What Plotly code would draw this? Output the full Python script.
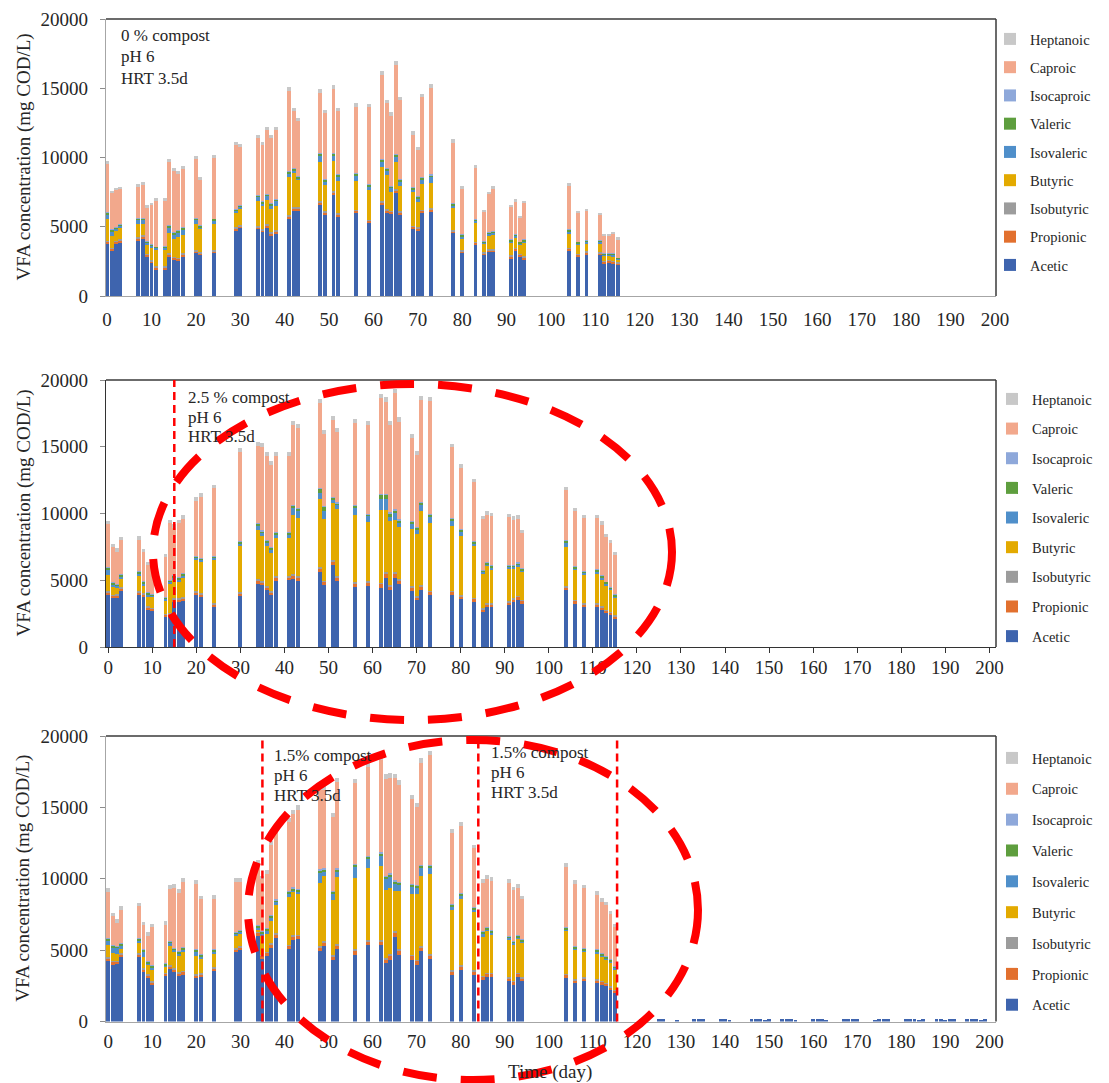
import plotly.graph_objects as go

W, H = 1109, 1083
FONT = "Liberation Serif"

# ---------------- Panel 1 : 0 % compost ----------------
days1 = [0, 1, 2, 3, 7, 8, 9, 10, 11, 13, 14, 15, 16, 17, 20, 21, 24, 29, 30, 34, 35, 36, 37, 38,
         41, 42, 43, 48, 49, 51, 52, 56, 59, 62, 63, 64, 65, 66, 69, 70, 71, 73, 78, 80, 83, 85, 86, 87,
         91, 92, 93, 94, 104, 106, 108, 111, 112, 113, 114, 115]
acetic1 = [3750, 3270, 3750, 3850, 3990, 4140, 2840, 2360, 1930, 1930, 2840, 2600, 2550, 2840, 3080, 2940, 3080,
           4690, 4890, 4810, 4600, 4930, 4350, 4480, 5540, 6160, 6160, 6570, 5850, 7290, 5730, 5970, 5250,
           6570, 5970, 5900, 7420, 5850, 4810, 4720, 5970, 6040, 4520, 3080, 3680, 2960, 3150, 3150,
           2720, 3270, 2840, 2650, 3250, 2840, 3030, 2960, 2360, 2400, 2360, 2240]
propionic1 = [150, 140, 150, 160, 160, 150, 140, 150, 140, 140, 160, 150, 150, 160, 160, 150, 160,
              170, 160, 170, 160, 170, 160, 170, 190, 180, 170, 200, 180, 190, 180, 180, 180,
              200, 190, 170, 200, 180, 180, 170, 180, 190, 170, 150, 160, 140, 150, 150,
              140, 150, 140, 140, 150, 140, 140, 140, 130, 130, 130, 120]
isobutyric1 = [80, 70, 80, 80, 80, 80, 70, 70, 70, 70, 80, 80, 80, 80, 80, 70, 80,
               90, 90, 80, 80, 90, 80, 80, 90, 90, 80, 90, 80, 90, 80, 80, 80,
               90, 90, 80, 90, 80, 80, 80, 80, 90, 80, 70, 80, 70, 70, 70,
               70, 70, 70, 70, 70, 70, 70, 70, 60, 60, 60, 60]
butyric1 = [1560, 880, 740, 810, 980, 830, 610, 900, 1210, 1210, 1500, 1260, 1460, 1310, 1890, 1670, 1890,
            1050, 1160, 1770, 1670, 1770, 1680, 1790, 2770, 2420, 1940, 2780, 1930, 2160, 2290, 2050, 2130,
            2470, 2460, 1380, 1930, 1810, 2420, 1790, 1830, 1870, 1650, 850, 1340, 610, 1020, 1070,
            880, 760, 610, 950, 1040, 610, 540, 610, 370, 330, 300, 180]
isovaleric1 = [360, 320, 120, 180, 290, 290, 210, 150, 120, 150, 400, 380, 350, 410, 290, 150, 240,
               160, 140, 330, 190, 260, 280, 340, 250, 230, 160, 490, 260, 390, 360, 440, 280,
               370, 330, 280, 410, 350, 230, 300, 360, 410, 140, 180, 190, 90, 140, 140,
               160, 130, 160, 160, 170, 160, 140, 140, 80, 80, 150, 90]
valeric1 = [110, 100, 90, 100, 110, 110, 90, 80, 80, 90, 120, 110, 110, 120, 110, 100, 110,
            100, 100, 120, 110, 120, 110, 120, 130, 120, 110, 150, 120, 140, 120, 130, 120,
            140, 130, 120, 140, 130, 110, 110, 120, 130, 100, 90, 100, 80, 90, 90,
            90, 90, 90, 90, 100, 90, 90, 90, 80, 80, 80, 70]
isocaproic1 = [30, 30, 20, 20, 30, 30, 20, 20, 20, 20, 40, 30, 30, 30, 30, 30, 30,
               40, 40, 40, 40, 40, 40, 40, 50, 40, 40, 50, 40, 50, 40, 40, 40,
               50, 40, 40, 50, 40, 40, 40, 40, 50, 40, 30, 30, 20, 30, 30,
               30, 30, 20, 30, 30, 20, 20, 20, 20, 20, 20, 20]
caproic1 = [3510, 2610, 2670, 2490, 2260, 2420, 2410, 2810, 3300, 3270, 4510, 4410, 4100, 4210, 4230, 3280, 4350,
            4600, 4190, 4090, 4040, 4580, 4690, 4930, 5790, 4120, 3950, 4350, 4750, 4630, 4550, 4760, 5560,
            6100, 4700, 5060, 6470, 5690, 3790, 3330, 5780, 6270, 4380, 3280, 3680, 2080, 2700, 3030,
            2310, 2300, 1720, 2600, 3150, 2030, 2120, 1810, 1260, 1260, 1390, 1320]
heptanoic1 = [220, 180, 180, 180, 190, 200, 170, 170, 180, 180, 220, 210, 210, 220, 220, 190, 220,
              240, 230, 240, 230, 250, 240, 250, 270, 250, 240, 260, 240, 270, 250, 250, 250,
              280, 260, 250, 280, 260, 230, 220, 260, 270, 240, 190, 210, 160, 180, 190,
              170, 180, 160, 170, 200, 160, 160, 160, 140, 140, 140, 140]

# ---------------- Panel 2 : 2.5 % compost ----------------
days2 = [0, 1, 2, 3, 7, 8, 9, 10, 13, 14, 15, 16, 17, 20, 21, 24, 30, 34, 35, 36, 37, 38,
         41, 42, 43, 48, 49, 51, 52, 56, 59, 62, 63, 64, 65, 66, 69, 70, 71, 73, 78, 80, 83, 85, 86, 87,
         91, 92, 93, 94, 104, 106, 108, 111, 112, 113, 114, 115]
acetic2 = [3900, 3650, 3700, 4200, 3880, 3750, 2800, 2700, 2250, 2300, 3380, 3380, 3430, 3880, 3750, 3000,
           3800, 4750, 4630, 4250, 3880, 4980, 5000, 5130, 4980, 5630, 4630, 6130, 4980, 4500, 4550,
           4450, 5200, 4250, 5200, 4750, 4200, 3500, 4250, 3880, 3880, 3580, 3380, 2630, 3000, 3000,
           3130, 3380, 3550, 3250, 4250, 3250, 3000, 3000, 2800, 2550, 2380, 2130]
propionic2 = [200, 180, 180, 200, 200, 190, 170, 170, 170, 180, 200, 200, 200, 210, 210, 200,
              220, 240, 230, 230, 220, 240, 240, 260, 250, 280, 250, 270, 260, 260, 260,
              270, 280, 260, 280, 260, 250, 240, 260, 250, 240, 230, 220, 200, 210, 210,
              210, 210, 210, 200, 230, 200, 200, 200, 190, 180, 180, 170]
isobutyric2 = [80, 80, 80, 80, 80, 80, 70, 70, 70, 80, 80, 80, 80, 80, 80, 80,
               80, 90, 90, 80, 80, 90, 90, 100, 100, 110, 100, 100, 100, 100, 100,
               110, 110, 100, 110, 100, 100, 90, 100, 100, 90, 90, 80, 80, 80, 80,
               80, 80, 80, 80, 90, 80, 80, 80, 80, 70, 70, 70]
butyric2 = [1200, 620, 470, 650, 1140, 520, 670, 820, 950, 2200, 1420, 1270, 1520, 2340, 2350, 3220,
            3470, 3720, 3340, 3020, 2890, 2870, 2850, 4420, 4320, 5090, 4590, 4270, 4990, 5050, 4420,
            5400, 4650, 4850, 3920, 3850, 4270, 4600, 5600, 5090, 4840, 4390, 3920, 2590, 2770, 2550,
            2440, 2190, 2120, 2100, 2920, 2220, 2170, 2220, 1970, 1800, 1640, 1340]
isovaleric2 = [400, 180, 150, 150, 180, 250, 230, 100, 170, 120, 120, 120, 120, 150, 100, 150,
               180, 250, 230, 200, 200, 220, 220, 520, 520, 450, 650, 270, 300, 520, 450,
               820, 820, 250, 500, 300, 400, 370, 420, 400, 380, 330, 170, 130, 150, 120,
               150, 150, 200, 120, 300, 150, 100, 150, 150, 150, 100, 100]
valeric2 = [150, 130, 130, 130, 140, 140, 130, 100, 120, 130, 130, 130, 130, 150, 150, 150,
            150, 170, 160, 160, 160, 160, 160, 180, 180, 300, 300, 150, 150, 180, 170,
            350, 350, 320, 250, 250, 170, 160, 170, 170, 160, 150, 140, 120, 130, 120,
            130, 130, 130, 120, 150, 130, 120, 130, 130, 120, 120, 110]
isocaproic2 = [40, 40, 30, 40, 40, 30, 30, 30, 30, 40, 40, 40, 40, 40, 40, 40,
               50, 50, 50, 50, 40, 50, 50, 50, 50, 60, 50, 50, 50, 50, 50,
               60, 60, 50, 60, 50, 50, 40, 50, 50, 50, 40, 40, 40, 40, 40,
               40, 40, 40, 30, 40, 40, 40, 40, 40, 30, 30, 30]
caproic2 = [3230, 2630, 2410, 2580, 2380, 2140, 2030, 2110, 2990, 4210, 3560, 4060, 4090, 4090, 4580, 5040,
            6660, 5760, 6280, 6310, 6190, 5710, 5710, 5960, 6010, 6340, 5390, 5740, 5310, 6090, 6660,
            7160, 6910, 6560, 8690, 7330, 6210, 5360, 7640, 8460, 5310, 4610, 4390, 3810, 3540, 3690,
            3560, 3360, 3290, 2610, 3760, 4110, 3960, 3860, 3810, 3360, 3290, 2910]
heptanoic2 = [250, 230, 230, 240, 240, 230, 220, 220, 230, 250, 250, 250, 250, 260, 260, 260,
              280, 290, 290, 280, 280, 290, 290, 300, 300, 320, 300, 310, 300, 300, 300,
              330, 330, 320, 350, 320, 300, 290, 310, 310, 290, 280, 270, 240, 250, 250,
              250, 250, 250, 240, 260, 250, 240, 240, 240, 230, 230, 220]

# ---------------- Panel 3 : 1.5 % compost ----------------
days3 = [0, 1, 2, 3, 7, 8, 9, 10, 13, 14, 15, 16, 17, 20, 21, 24, 29, 30, 34, 35, 36, 37, 38,
         41, 42, 43, 48, 49, 51, 52, 56, 59, 62, 63, 64, 65, 66, 69, 70, 71, 73, 78, 80, 83, 85, 86, 87,
         91, 92, 93, 94, 104, 106, 108, 111, 112, 113, 114, 115]
acetic3 = [4220, 3990, 4000, 4500, 4500, 3450, 3050, 2580, 3170, 3680, 3450, 3170, 3290, 3050, 3120, 3520,
           4860, 5000, 6000, 4400, 4600, 5160, 5870, 5050, 5700, 5750, 4930, 5280, 4300, 5090, 4690, 5330,
           5330, 4110, 4340, 5940, 4690, 4340, 3990, 4930, 4390, 3290, 3640, 3290, 2930, 3120, 3120,
           2820, 2580, 3120, 2820, 3050, 2700, 2820, 2700, 2580, 2460, 2230, 2000]
propionic3 = [200, 190, 190, 200, 200, 190, 180, 170, 180, 200, 190, 190, 190, 190, 190, 200,
              210, 210, 220, 210, 210, 220, 230, 240, 240, 240, 260, 260, 250, 260, 260, 270,
              280, 260, 260, 270, 260, 250, 250, 270, 260, 230, 240, 230, 200, 210, 210,
              200, 200, 210, 200, 210, 190, 190, 190, 190, 180, 180, 170]
isobutyric3 = [80, 80, 80, 80, 80, 80, 70, 70, 70, 80, 80, 80, 80, 80, 80, 80,
               80, 80, 90, 80, 80, 90, 90, 90, 90, 90, 100, 100, 90, 100, 100, 100,
               110, 100, 100, 100, 100, 100, 90, 100, 100, 90, 90, 90, 80, 80, 80,
               80, 80, 80, 80, 80, 80, 80, 80, 70, 70, 70, 70]
butyric3 = [830, 540, 480, 310, 740, 800, 660, 820, 420, 1320, 1130, 1130, 1360, 1290, 990, 960,
            840, 820, 120, 1320, 1220, 1600, 1950, 3350, 3060, 2890, 4410, 4530, 3870, 4650, 5010, 5070,
            5190, 4760, 4650, 2820, 4110, 4250, 4600, 4880, 5590, 4180, 4580, 4100, 2730, 2940, 2700,
            2650, 2540, 2400, 2420, 3010, 2020, 1760, 1780, 1650, 1600, 1600, 1400]
isovaleric3 = [320, 370, 370, 210, 130, 410, 110, 160, 100, 200, 140, 170, 120, 270, 150, 130,
               120, 150, 150, 150, 250, 200, 200, 210, 80, 80, 720, 320, 440, 390, 740, 590,
               670, 720, 790, 510, 390, 480, 430, 560, 390, 250, 250, 110, 250, 110, 100,
               100, 100, 100, 100, 110, 150, 150, 140, 140, 130, 140, 120]
valeric3 = [150, 140, 140, 130, 140, 140, 120, 120, 120, 150, 140, 140, 140, 140, 130, 130,
            140, 140, 150, 140, 150, 160, 160, 170, 170, 170, 190, 180, 170, 180, 180, 190,
            200, 190, 190, 190, 180, 170, 170, 180, 180, 160, 160, 150, 130, 140, 140,
            130, 130, 130, 130, 140, 130, 130, 130, 130, 120, 120, 110]
isocaproic3 = [40, 30, 30, 40, 40, 30, 30, 30, 30, 40, 40, 40, 40, 40, 40, 40,
               40, 40, 50, 40, 40, 50, 50, 50, 50, 50, 60, 60, 50, 60, 60, 60,
               60, 60, 60, 60, 60, 50, 50, 60, 60, 50, 50, 50, 40, 40, 40,
               40, 40, 40, 40, 40, 40, 40, 40, 40, 30, 30, 30]
caproic3 = [3230, 2050, 1630, 2360, 2240, 1660, 1800, 2640, 2700, 3630, 4180, 4080, 4550, 4600, 3870, 3540,
            3500, 3350, 4280, 3610, 3810, 4880, 4640, 4820, 5160, 5580, 5530, 5510, 5150, 6050, 5670, 6190,
            6510, 6820, 6700, 7140, 6800, 5930, 5450, 7150, 7690, 4940, 4660, 4100, 3340, 3370, 3450,
            3680, 3520, 3280, 2790, 4210, 4340, 4170, 3810, 3590, 3540, 3170, 2730]
heptanoic3 = [250, 230, 230, 240, 240, 230, 220, 220, 230, 250, 250, 250, 250, 250, 240, 240,
              260, 260, 270, 260, 260, 280, 280, 290, 290, 300, 310, 310, 290, 310, 310, 320,
              330, 310, 310, 310, 300, 290, 290, 320, 320, 280, 280, 270, 250, 250, 250,
              250, 250, 250, 240, 260, 250, 250, 250, 240, 230, 230, 220]
# small acetic residues after day 120 (panel 3)
tail_days3 = [121, 122, 125, 126, 129, 133, 134, 135, 139, 140, 141, 146, 147, 148, 149, 150, 153, 154, 155, 156,
              160, 161, 162, 163, 167, 168, 169, 170, 174, 175, 176, 177, 181, 182, 183, 184, 185,
              188, 189, 190, 191, 192, 195, 196, 197, 198, 199]
tail_acetic3 = [150, 140, 160, 150, 140, 150, 160, 150, 160, 150, 140, 150, 160, 150, 140, 150, 160, 150, 150, 140,
                150, 160, 150, 140, 150, 150, 160, 150, 140, 150, 160, 150, 150, 160, 150, 140, 150,
                160, 150, 140, 150, 150, 150, 160, 150, 140, 150]

series = ["Acetic", "Propionic", "Isobutyric", "Butyric", "Isovaleric", "Valeric", "Isocaproic", "Caproic", "Heptanoic"]
colors = {
    "Acetic": "#3E64AE", "Propionic": "#E2702E", "Isobutyric": "#9C9C9C", "Butyric": "#E3AA00",
    "Isovaleric": "#4F8FCA", "Valeric": "#5E9E3E", "Isocaproic": "#8EA8DA", "Caproic": "#F2A88C",
    "Heptanoic": "#C8C8C8",
}

panels = [
    (days1, [acetic1, propionic1, isobutyric1, butyric1, isovaleric1, valeric1, isocaproic1, caproic1, heptanoic1]),
    (days2, [acetic2, propionic2, isobutyric2, butyric2, isovaleric2, valeric2, isocaproic2, caproic2, heptanoic2]),
    (days3, [acetic3, propionic3, isobutyric3, butyric3, isovaleric3, valeric3, isocaproic3, caproic3, heptanoic3]),
]

fig = go.Figure()
legends = ["legend", "legend2", "legend3"]
for i, (days, vals) in enumerate(panels):
    sfx = "" if i == 0 else str(i + 1)
    for k, (name, v) in enumerate(zip(series, vals)):
        fig.add_trace(go.Bar(
            x=days, y=v, name=name, marker=dict(color=colors[name], line=dict(width=0)),
            width=0.88, xaxis="x" + sfx, yaxis="y" + sfx, legend=legends[i],
            legendgroup=f"{legends[i]}-{name}", legendrank=1000 - k, showlegend=True))
fig.add_trace(go.Bar(x=tail_days3, y=tail_acetic3, name="Acetic", marker=dict(color=colors["Acetic"], line=dict(width=0)),
                     width=0.88, xaxis="x3", yaxis="y3", showlegend=False))

def px_x(p):
    return p / W

def px_y(p):
    return 1 - p / H

# plot-area pixel boxes (top, bottom)
boxes = [(19, 296), (380, 647), (736, 1021.5)]
xdom = [px_x(106), px_x(996)]
xranges = [[-0.25, 200.25], [-0.5, 201.5], [-0.5, 201.5]]
axis_dark = ["#A6A6A6", "#333333", "#A6A6A6"]
xstandoff = [6, -2, 3]
tickfont = dict(family=FONT, size=19, color="#262626")

layout = dict(
    width=W, height=H, barmode="stack", bargap=0, plot_bgcolor="white", paper_bgcolor="white",
    margin=dict(l=0, r=0, t=0, b=0, pad=0, autoexpand=False), showlegend=True,
    font=dict(family=FONT, color="#262626"),
)
for i, (top, bot) in enumerate(boxes):
    sfx = "" if i == 0 else str(i + 1)
    layout["xaxis" + sfx] = dict(
        domain=xdom, range=xranges[i], anchor="y" + sfx, tickmode="array", tickvals=list(range(0, 201, 10)),
        showgrid=False, zeroline=False, showline=True, linecolor=axis_dark[i], linewidth=1.3,
        ticks="outside" if i == 1 else "", ticklen=5, tickcolor="#333333", tickfont=tickfont,
        ticklabelstandoff=xstandoff[i], automargin=False,
    )
    layout["yaxis" + sfx] = dict(
        domain=[px_y(bot), px_y(top)], range=[0, 20000], anchor="x" + sfx, tickmode="array",
        tickvals=[0, 5000, 10000, 15000, 20000], ticktext=["0", "5000", "10000", "15000", "20000"],
        showgrid=False, zeroline=False, showline=True, linecolor=axis_dark[i], linewidth=1.3,
        ticks="outside", ticklen=5, tickcolor="#8C8C8C", tickfont=tickfont, ticklabelstandoff=8,
        automargin=False,
    )

legend_tops = [23, 383, 742]
legend_gaps = [6.4, 7.8, 9.0]
legend_x = [990, 992, 992]
for i, lg in enumerate(legends):
    layout[lg] = dict(
        x=px_x(legend_x[i]), y=px_y(legend_tops[i]), xanchor="left", yanchor="top",
        traceorder="grouped", tracegroupgap=legend_gaps[i], itemwidth=30,
        font=dict(family=FONT, size=14.5, color="#262626"), bgcolor="rgba(0,0,0,0)",
    )

fig.update_layout(**layout)

shapes = []
for i in range(3):
    sfx = "" if i == 0 else str(i + 1)
    shapes.append(dict(type="line", xref=f"x{sfx} domain", yref=f"y{sfx} domain", x0=0, x1=1, y0=1, y1=1,
                       line=dict(color="#3A3A3A", width=1.5)))
    shapes.append(dict(type="line", xref=f"x{sfx} domain", yref=f"y{sfx} domain", x0=1, x1=1, y0=0, y1=1,
                       line=dict(color="#3A3A3A", width=1.5)))
# red dashed vertical markers
for ax, xv in [("2", 15), ("3", 35), ("3", 84), ("3", 115.5)]:
    shapes.append(dict(type="line", xref="x" + ax, yref=f"y{ax} domain", x0=xv, x1=xv, y0=0, y1=1,
                       line=dict(color="#FF0000", width=2.5, dash="8px,5px")))
# red dashed ellipses
for (x0, x1, y0, y1) in [(153, 672, 384, 720), (248, 698, 740, 1080)]:
    shapes.append(dict(type="circle", xref="paper", yref="paper",
                       x0=px_x(x0), x1=px_x(x1), y0=px_y(y1), y1=px_y(y0),
                       line=dict(color="#FF0000", width=8, dash="34px,24px")))
fig.update_layout(shapes=shapes)

annots = []
def note(x, y, text, size=17):
    annots.append(dict(x=px_x(x), y=px_y(y), xref="paper", yref="paper", text=text, showarrow=False,
                       xanchor="left", yanchor="middle", font=dict(family=FONT, size=size, color="#262626")))

for (x, y0, step, label) in [(119, 35, 22, "0 % compost"), (186, 397, 20, "2.5 % compost"),
                             (272, 755, 20, "1.5% compost"), (489, 752, 20, "1.5% compost")]:
    note(x, y0, label)
    note(x, y0 + step, "pH 6")
    note(x, y0 + 2 * step, "HRT 3.5d")

for (top, bot) in boxes:
    annots.append(dict(x=px_x(23), y=px_y((top + bot) / 2), xref="paper", yref="paper",
                       text="VFA concentration (mg COD/L)", textangle=-90, showarrow=False,
                       xanchor="center", yanchor="middle", font=dict(family=FONT, size=19, color="#262626")))
annots.append(dict(x=px_x(550), y=px_y(1072), xref="paper", yref="paper", text="Time (day)", showarrow=False,
                   xanchor="center", yanchor="middle", font=dict(family=FONT, size=19, color="#262626")))
fig.update_layout(annotations=annots)

fig.write_html("out.html", config={"displayModeBar": False},
               post_script="document.body.style.margin='0';document.body.style.padding='0';"
                           "document.body.style.overflow='hidden';")
